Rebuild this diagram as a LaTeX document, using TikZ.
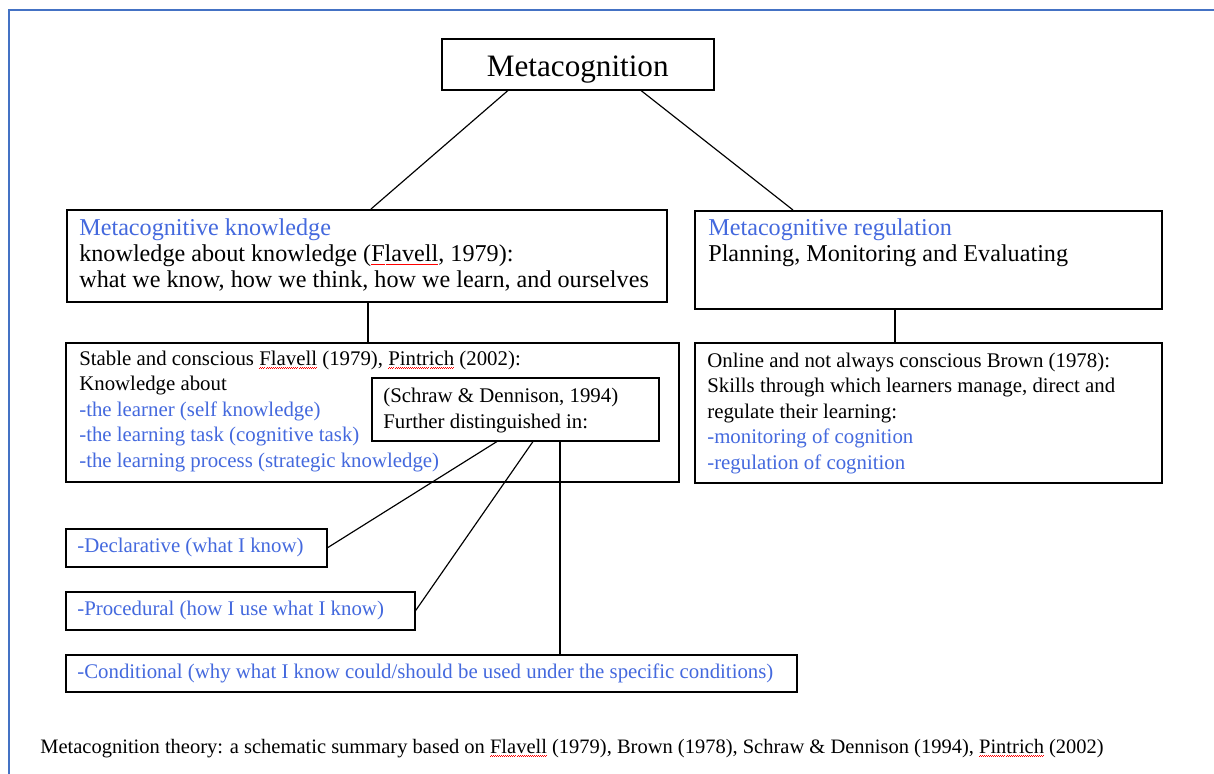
\documentclass[tikz,border=0pt]{standalone}
\usepackage{fontspec}
\setmainfont{Liberation Serif}
\usepackage{xcolor}
\usetikzlibrary{positioning}
\definecolor{wordblue}{RGB}{68,105,222}
\definecolor{frameblue}{RGB}{68,114,196}
\newcommand{\blue}[1]{\textcolor{wordblue}{#1}}
\newsavebox\spellbox
\newcommand{\spell}[1]{\sbox\spellbox{#1}%
  \rlap{\raisebox{-2pt}{\hbox to \wd\spellbox{\color{red}\xleaders\hbox{\rule{0.6pt}{0.4pt}\rule[0.4pt]{0.6pt}{0.4pt}}\hfill}}}%
  \usebox\spellbox}

\begin{document}
\begin{tikzpicture}[x=0.6pt,y=-0.6pt,
box/.style 2 args={draw,line width=0.9pt,fill=white,anchor=north west,inner sep=0pt,
  minimum width=#1*0.6pt,minimum height=#2*0.6pt},
txt/.style={anchor=north west,inner sep=0pt,align=left},
small/.style={font=\fontsize{12.5}{15.3}\selectfont},
large/.style={font=\fontsize{14.5}{15.6}\selectfont},
link/.style={line width=0.7pt}
]
\useasboundingbox (0,0) rectangle (1214,774);
\draw[frameblue,line width=1.3pt] (9,774) -- (9,10) -- (1214,10);

% boxes
\node[box={272}{51}] (meta) at (441,38) {};
\node[box={600}{92}] (know) at (66,209) {};
\node[box={467}{98}] (reg) at (694,210) {};
\node[box={613}{139}] (stable) at (65,342) {};
\node[box={467}{140}] (online) at (694,342) {};
\node[box={261}{38}] (decl) at (65,528) {};
\node[box={349}{38}] (proc) at (65,591) {};
\node[box={731}{37}] (cond) at (65,654) {};

% texts
\node[font=\fontsize{18.7}{22}\selectfont,anchor=base,inner sep=0pt] (metatxt) at ([shift={(0,12)}]meta.center) {Metacognition};
\node[txt,large] (knowtxt) at ([shift={(13,8)}]know.north west)
  {\strut\blue{Metacognitive knowledge}\\
   knowledge about knowledge (\spell{Flavell}, 1979):\\
   what we know, how we think, how we learn, and ourselves};
\node[txt,large] (regtxt) at ([shift={(14,7)}]reg.north west)
  {\strut\blue{Metacognitive regulation}\\
   Planning, Monitoring and Evaluating};
\node[txt,small] (stabletxt) at ([shift={(14,5)}]stable.north west)
  {\strut Stable and conscious \spell{Flavell} (1979), \spell{Pintrich} (2002):\\
   Knowledge about\\
   \blue{-the learner (self knowledge)}\\
   \blue{-the learning task (cognitive task)}\\
   \blue{-the learning process (strategic knowledge)}};
\node[txt,small] (onlinetxt) at ([shift={(13,7)}]online.north west)
  {\strut Online and not always conscious Brown (1978):\\
   Skills through which learners manage, direct and\\
   regulate their learning:\\
   \blue{-monitoring of cognition}\\
   \blue{-regulation of cognition}};
\node[box={287}{63}] (schraw) at (371,377) {};
\node[txt,small] (schrawtxt) at ([shift={(12,7.5)}]schraw.north west)
  {\strut(Schraw \& Dennison, 1994)\\
   Further distinguished in:};
\node[small,anchor=base west,inner sep=0pt] (decltxt) at ([shift={(12,5)}]decl.west)
  {\blue{-Declarative (what I know)}};
\node[small,anchor=base west,inner sep=0pt] (proctxt) at ([shift={(12,5)}]proc.west)
  {\blue{-Procedural (how I use what I know)}};
\node[small,anchor=base west,inner sep=0pt] (condtxt) at ([shift={(12,5)}]cond.west)
  {\blue{-Conditional (why what I know could/should be used under the specific conditions)}};

% connectors
\draw[link] ([shift={(67,0)}]meta.south west) -- ([shift={(305,0)}]know.north west);
\draw[link] ([shift={(200,0)}]meta.south west) -- ([shift={(99,0)}]reg.north west);
\draw[link] ([shift={(302,0)}]know.south west) -- ([shift={(303,0)}]stable.north west);
\draw[link] ([shift={(201,0)}]reg.south west) -- ([shift={(201,0)}]online.north west);
\draw[link] ([shift={(126,0)}]schraw.south west) -- (decl.east);
\draw[link] ([shift={(162,0)}]schraw.south west) -- (proc.east);
\draw[link] ([shift={(189,0)}]schraw.south west) coordinate (s3) -- (s3 |- cond.north);

\node[font=\fontsize{12.3}{15}\selectfont,anchor=base west,inner sep=0pt] (caption) at (40,753)
  {Metacognition theory: a schematic summary based on \spell{Flavell} (1979), Brown (1978), Schraw \& Dennison (1994), \spell{Pintrich} (2002)};
\end{tikzpicture}
\end{document}
